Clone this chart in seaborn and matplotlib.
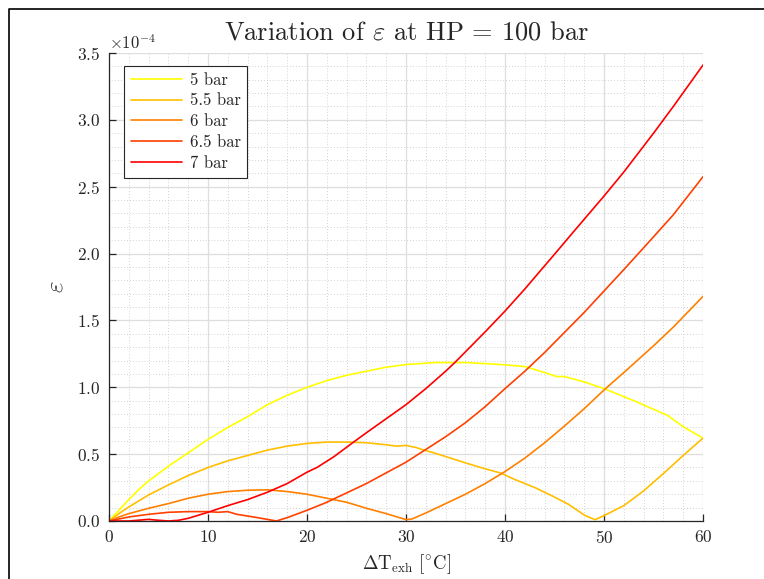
import numpy as np
import pandas as pd
import seaborn as sns
import matplotlib
matplotlib.use("Agg")
import matplotlib.pyplot as plt
from matplotlib.ticker import MultipleLocator, ScalarFormatter
from matplotlib.lines import Line2D

# Exhaust temperature difference [degC] and eps (in units of 1e-4) per low pressure level
x_5 = [0, 1, 2, 3, 4, 6, 8, 10, 12, 14, 16, 18, 20, 22, 24, 26, 28, 30, 33, 36,
       39.6, 42, 44, 45.2, 46, 48, 50, 53, 56.4, 58.1, 60]
eps_5 = [0.0, 0.08, 0.16, 0.235, 0.30, 0.41, 0.51, 0.61, 0.70, 0.78, 0.87, 0.94, 1.00,
         1.05, 1.09, 1.12, 1.15, 1.17, 1.185, 1.185, 1.17, 1.155, 1.11, 1.08, 1.08,
         1.04, 0.99, 0.90, 0.79, 0.70, 0.62]

x_55 = [0, 1, 2, 4, 6, 8, 10, 12, 14, 16, 18, 20, 22, 24, 26, 28, 29, 30, 31, 31.8,
        32.8, 34.5, 36.2, 38, 39.5, 41, 43, 44.7, 46.4, 48.1, 49.1, 50, 52, 54, 56,
        58, 60]
eps_55 = [0.0, 0.055, 0.105, 0.195, 0.27, 0.34, 0.40, 0.45, 0.49, 0.53, 0.56, 0.58,
          0.59, 0.59, 0.585, 0.57, 0.56, 0.565, 0.55, 0.53, 0.51, 0.47, 0.43, 0.39,
          0.36, 0.31, 0.25, 0.19, 0.125, 0.04, 0.01, 0.04, 0.115, 0.225, 0.355, 0.49, 0.62]

x_6 = [0, 1, 2, 4, 6, 8, 10, 12, 14, 16, 18, 20, 22, 24, 26, 28, 30, 30.6, 32, 34,
       36, 38, 40, 42, 44, 46, 48, 50, 52, 55, 57, 60]
eps_6 = [0.0, 0.03, 0.055, 0.095, 0.13, 0.17, 0.20, 0.22, 0.23, 0.233, 0.22, 0.20,
         0.17, 0.14, 0.095, 0.055, 0.01, 0.015, 0.06, 0.13, 0.20, 0.28, 0.37, 0.47,
         0.585, 0.71, 0.84, 0.98, 1.11, 1.31, 1.45, 1.68]

x_65 = [0, 2, 4, 6, 8, 10, 11, 12, 12.9, 15, 16.9, 18, 20, 22, 24, 26, 28, 30, 32,
        34, 36, 38, 40, 42, 44, 46, 48, 50, 52, 55, 57, 60]
eps_65 = [0.0, 0.03, 0.05, 0.065, 0.07, 0.07, 0.065, 0.07, 0.05, 0.025, 0.0, 0.025,
          0.08, 0.14, 0.21, 0.28, 0.36, 0.44, 0.535, 0.63, 0.735, 0.855, 0.99, 1.12,
          1.26, 1.41, 1.56, 1.72, 1.88, 2.125, 2.29, 2.575]

x_7 = [0, 2, 4, 5, 6, 7, 8, 10, 12, 14, 16, 18, 20, 21, 22.7, 24.7, 26, 28, 30, 31,
       32, 33, 34, 35, 36, 38, 40, 42, 45, 47, 50, 52, 55, 57, 60]
eps_7 = [0.0, 0.0, 0.012, 0.005, 0.0, 0.005, 0.02, 0.065, 0.115, 0.16, 0.215, 0.28,
         0.365, 0.40, 0.48, 0.59, 0.66, 0.765, 0.87, 0.93, 0.99, 1.055, 1.12, 1.19,
         1.265, 1.415, 1.57, 1.735, 1.995, 2.17, 2.43, 2.61, 2.90, 3.10, 3.41]

series_labels = ["5 bar", "5.5 bar", "6 bar", "6.5 bar", "7 bar"]
series_x = [x_5, x_55, x_6, x_65, x_7]
series_eps = [eps_5, eps_55, eps_6, eps_65, eps_7]

frames = []
for lab, xs, ys in zip(series_labels, series_x, series_eps):
    frames.append(pd.DataFrame({"dT": xs, "eps": np.array(ys) * 1e-4, "LP": lab}))
df = pd.concat(frames, ignore_index=True)

# yellow -> red, like the 'autumn' map run backwards
palette = dict(zip(series_labels, ["#ffff00", "#ffbf00", "#ff8000", "#ff4000", "#ff0000"]))

sns.set_style("ticks")
plt.rcParams.update({
    "font.family": "serif",
    "font.serif": ["cmr10", "DejaVu Serif"],
    "mathtext.fontset": "cm",
    "axes.formatter.use_mathtext": True,
    "axes.unicode_minus": False,
})

fig = plt.figure(figsize=(7.64, 5.79), dpi=100)
ax = fig.add_axes([0.1427, 0.1002, 0.7775, 0.8083])

sns.lineplot(data=df, x="dT", y="eps", hue="LP", palette=palette, estimator=None,
             sort=False, linewidth=1.2, ax=ax)

ax.set_xlim(0, 60)
ax.set_ylim(0, 3.5e-4)
ax.xaxis.set_major_locator(MultipleLocator(10))
ax.xaxis.set_minor_locator(MultipleLocator(2))
ax.yaxis.set_major_locator(MultipleLocator(0.5e-4))
ax.yaxis.set_minor_locator(MultipleLocator(0.1e-4))

fmt = ScalarFormatter(useMathText=True)
fmt.set_powerlimits((-3, 3))
ax.yaxis.set_major_formatter(fmt)
ax.yaxis.get_offset_text().set_fontsize(12)
ax.yaxis.get_offset_text().set_color("#262626")

ax.grid(which="major", color="#dedede", linewidth=0.9, linestyle="-")
ax.grid(which="minor", color="#c4c4c4", linewidth=0.6, linestyle=(0, (1, 2.5)))
ax.set_axisbelow(True)

for side in ["top", "right"]:
    ax.spines[side].set_visible(False)
for side in ["left", "bottom"]:
    ax.spines[side].set_color("#262626")
    ax.spines[side].set_linewidth(0.9)

ax.tick_params(which="major", direction="in", length=5, width=0.9, color="#262626",
               labelsize=12.5, labelcolor="#262626", pad=6)
ax.tick_params(which="minor", length=0)

ax.set_title(r"Variation of $\varepsilon$ at HP = 100 bar", fontsize=19, pad=10)
ax.set_xlabel(r"$\Delta\mathrm{T}_{\mathrm{exh}}\ [^{\circ}\mathrm{C}]$", fontsize=13.5,
              labelpad=4)
ax.set_ylabel(r"$\varepsilon$", fontsize=18, labelpad=7)

leg = ax.legend(loc="upper left", bbox_to_anchor=(0.025, 0.973), fontsize=12,
                frameon=True, fancybox=False, framealpha=1, edgecolor="#262626",
                handlelength=3.1, handletextpad=0.45, labelspacing=0.33,
                borderpad=0.4, borderaxespad=0)
leg.get_frame().set_linewidth(0.8)
leg.set_title(None)

# outer border of the figure panel
fig.add_artist(Line2D([9 / 764, 9 / 764, 1.0], [0.0, 1 - 9 / 579, 1 - 9 / 579],
                      transform=fig.transFigure, color="black", linewidth=1.2))

fig.savefig("out.png", dpi=100)
